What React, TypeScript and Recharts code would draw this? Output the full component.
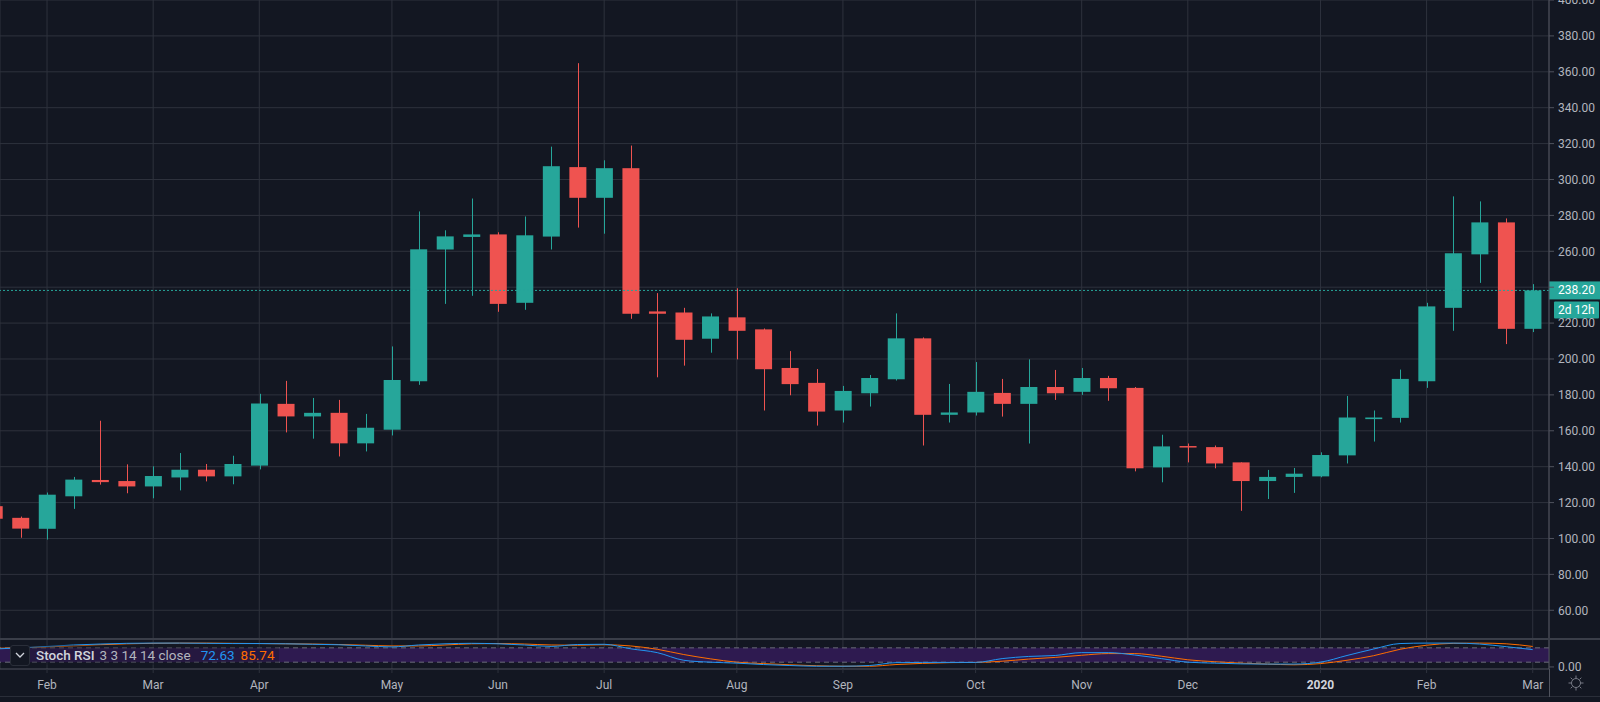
import { ComposedChart, Bar, Line, XAxis, YAxis, CartesianGrid, ReferenceLine, ReferenceArea } from 'recharts'

// weekly candles, index 1..59 (late Jan 2019 -> Mar 2020)
const weekIndex = Array.from({ length: 59 }, (_, i) => i + 1)

const opens = [
  118, 111.5, 105.4, 123.5, 132.6, 132, 129, 134, 138.3, 134.6,
  140.6, 175, 168, 170, 153, 160.6, 187.6, 261, 268, 269.4,
  231.3, 268.2, 306.9, 289.8, 306.3, 226.5, 225.9, 211.3, 223.2, 216.5,
  195, 186.7, 171.3, 180.9, 188.7, 211.5, 168.9, 170.2, 181.1, 175,
  184.4, 181.7, 189.4, 183.9, 139.6, 151.5, 150.9, 142.4, 132, 134.3,
  134.6, 146.3, 166.5, 167.2, 187.6, 228.5, 258.3, 276.1, 216.8,
]
const highs = [
  120, 112.2, 125.6, 134.3, 165.6, 141.3, 140.2, 147.6, 141.5, 146.1,
  180.6, 187.8, 178.3, 177.2, 169.4, 207, 282.2, 271.7, 289.4, 270.6,
  279.4, 318.3, 364.8, 310.7, 318.9, 236.7, 228.5, 225.4, 239.4, 217,
  204.4, 194.4, 185, 191.1, 225.4, 212, 186.1, 198.3, 188.9, 199.8,
  193.9, 195, 190.6, 184.4, 157.8, 152.9, 151.8, 142.4, 138.2, 139.3,
  148, 179.4, 171.3, 194.1, 231.3, 290.6, 287.8, 278.3, 241.7,
]
const lows = [
  108, 100.4, 99.4, 116.5, 130, 125.2, 122.4, 126.8, 131.8, 130.2,
  138.5, 159.1, 155.6, 145.7, 148.5, 157.4, 185.6, 230.7, 235.2, 226.3,
  227.4, 261, 273.2, 269.8, 222.4, 189.8, 196.3, 203.5, 199.8, 171.3,
  179.8, 162.9, 164.6, 173.5, 188, 151.8, 164.6, 168.5, 167.9, 152.9,
  177.2, 180, 176.7, 137.4, 131.3, 142.4, 139.1, 115.4, 122, 125.4,
  134.1, 141.8, 154, 164.6, 183.9, 215.7, 242.4, 208.3, 215,
]
const closes = [
  111, 105.5, 124.4, 132.8, 131.4, 129, 134.8, 138.3, 134.6, 141.5,
  175.2, 168, 170, 153, 161.7, 188.3, 261.1, 268.3, 269.4, 230.7,
  268.9, 307.4, 289.8, 306.3, 225.2, 225.2, 210.7, 223.7, 215.7, 194.3,
  186, 170.7, 182.2, 189.4, 211.5, 168.9, 170.2, 181.7, 175, 184.4,
  180.9, 189.4, 183.7, 139.1, 151.3, 150.7, 141.8, 132, 134.3, 136.1,
  146.5, 167.4, 167.4, 188.9, 229.3, 258.9, 276.1, 216.8, 238.2,
]

const stochK = [
  75, 80, 86, 92, 96, 99, 100, 100, 99, 98,
  98, 97, 95, 93, 88, 84, 92, 97, 99, 97,
  92, 86, 94, 95, 76, 60, 28, 20, 16, 10,
  6, 3, 3, 6, 18, 19, 19, 19, 35, 44,
  48, 60, 60, 50, 35, 20, 16, 13, 12, 12,
  20, 48, 75, 98, 100, 100, 96, 85, 72.63,
]
const stochD = [
  78, 80, 84, 88, 93, 97, 99, 100, 100, 99,
  98, 97, 96, 94, 91, 88, 88, 92, 97, 98,
  96, 92, 91, 93, 88, 74, 52, 34, 20, 14,
  9, 5, 3, 3, 10, 15, 18, 19, 24, 33,
  40, 49, 56, 56, 45, 30, 22, 16, 12, 9,
  14, 28, 47, 74, 91, 99, 100, 97, 85.74,
]

const monthTicks = [3, 7, 11, 16, 20, 24, 29, 33, 38, 42, 46, 51, 55, 59]
const monthLabels = ['Feb', 'Mar', 'Apr', 'May', 'Jun', 'Jul', 'Aug', 'Sep', 'Oct', 'Nov', 'Dec', '2020', 'Feb', 'Mar']
const priceTicks = [60, 80, 100, 120, 140, 160, 180, 200, 220, 240, 260, 280, 300, 320, 340, 360, 380, 400]
const lastPrice = 238.2

const BG = '#131722'
const GRID = '#2e323d'
const AXIS = '#50535e'
const TEXT = '#b2b5be'
const UP = '#26a69a'
const DOWN = '#ef5350'
const FONT = 'Roboto, "Noto Sans", sans-serif'
const X_DOMAIN = [1.227, 59.614]

const data = weekIndex.map((idx, i) => ({
  idx,
  open: opens[i],
  high: highs[i],
  low: lows[i],
  close: closes[i],
  range: [lows[i], highs[i]],
  k: stochK[i],
  d: stochD[i],
}))

function Candle(props: any) {
  const { x, y, width, height, payload } = props
  if (x == null || y == null || !payload) return null
  const { open, close, high, low } = payload
  const color = close >= open ? UP : DOWN
  const ratio = high === low ? 0 : height / (high - low)
  const yOf = (v: number) => y + (high - v) * ratio
  const cx = Math.round(x + width / 2) + 0.5
  const top = yOf(Math.max(open, close))
  const bottom = yOf(Math.min(open, close))
  return (
    <g>
      <line x1={cx} x2={cx} y1={y} y2={y + height} stroke={color} strokeWidth={1} />
      <rect x={x} y={top} width={width} height={Math.max(bottom - top, 1.5)} fill={color} />
    </g>
  )
}

// the last-price badge hides the axis label sitting under it
function PriceTick(props: any) {
  const { x, y, payload } = props
  if (Math.abs(payload.value - lastPrice) < 8) return null
  return (
    <text x={x} y={y} dy="0.355em" textAnchor="start" fontFamily={FONT} fontSize={12} fill={TEXT}>
      {Number(payload.value).toFixed(2)}
    </text>
  )
}

function PriceLabel(props: any) {
  const vb = props.viewBox || {}
  const left = vb.x + vb.width
  const cy = vb.y
  return (
    <g fontFamily={FONT} fontSize={12}>
      <rect x={left} y={cy - 9} width={51} height={18} fill={UP} />
      <text x={left + 9} y={cy + 4} fill="#ffffff">{lastPrice.toFixed(2)}</text>
      <rect x={left + 5} y={cy + 11} width={45} height={17} rx={1} fill={UP} />
      <text x={left + 9} y={cy + 24} fill="#ffffff">2d 12h</text>
    </g>
  )
}

function TimeTick(props: any) {
  const { x, y, payload } = props
  const pos = monthTicks.indexOf(payload.value)
  const label = monthLabels[pos] ?? ''
  const strong = label === '2020'
  return (
    <text x={x} y={y + 14} textAnchor="middle" fontFamily={FONT} fontSize={12}
      fontWeight={strong ? 700 : 400} fill={strong ? '#d1d4dc' : TEXT}>
      {label}
    </text>
  )
}

export default function App() {
  return (
    <div style={{ position: 'absolute', left: 0, top: 0, width: 1600, height: 702, background: BG, overflow: 'hidden' }}>
      <div style={{ position: 'absolute', left: 0, top: 0 }}>
        <ComposedChart width={1600} height={639} data={data} margin={{ top: 0, right: 0, bottom: 0, left: 0 }}>
          <CartesianGrid stroke={GRID} strokeWidth={1} />
          <XAxis dataKey="idx" type="number" domain={X_DOMAIN} allowDataOverflow ticks={monthTicks} hide />
          <YAxis
            orientation="right"
            width={51}
            domain={[44, 400]}
            allowDataOverflow
            ticks={priceTicks}
            interval={0}
            tick={(p: any) => <PriceTick {...p} />}
            tickSize={5}
            tickMargin={4}
            axisLine={{ stroke: AXIS }}
            tickLine={{ stroke: AXIS }}
          />
          <Bar dataKey="range" barSize={17} shape={(p: any) => <Candle {...p} />} isAnimationActive={false} />
          <ReferenceLine y={lastPrice} stroke={UP} strokeDasharray="2 2" label={(p: any) => <PriceLabel {...p} />} />
        </ComposedChart>
      </div>

      <div style={{ position: 'absolute', left: 0, top: 639 }}>
        <ComposedChart width={1600} height={63} data={data} margin={{ top: 0, right: 0, bottom: 0, left: 0 }}>
          <CartesianGrid stroke={GRID} horizontal={false} />
          <ReferenceArea y1={20} y2={80} fill="#2e1a50" fillOpacity={1} stroke="none" />
          <ReferenceLine y={80} stroke="#6a6d78" strokeDasharray="5 4" />
          <ReferenceLine y={20} stroke="#6a6d78" strokeDasharray="5 4" />
          <XAxis
            dataKey="idx"
            type="number"
            domain={X_DOMAIN}
            allowDataOverflow
            ticks={monthTicks}
            interval={0}
            height={33}
            tick={(p: any) => <TimeTick {...p} />}
            tickSize={4}
            axisLine={{ stroke: AXIS }}
            tickLine={{ stroke: GRID }}
          />
          <YAxis
            orientation="right"
            width={51}
            domain={[-8.6, 117.1]}
            allowDataOverflow
            ticks={[0]}
            interval={0}
            tickFormatter={(v: number) => v.toFixed(2)}
            tick={{ fill: TEXT, fontSize: 12, fontFamily: FONT }}
            tickSize={5}
            tickMargin={4}
            axisLine={{ stroke: AXIS }}
            tickLine={{ stroke: AXIS }}
          />
          <Line dataKey="d" type="monotone" stroke="#ff6d00" strokeWidth={1} dot={false} isAnimationActive={false} />
          <Line dataKey="k" type="monotone" stroke="#2196f3" strokeWidth={1} dot={false} isAnimationActive={false} />
        </ComposedChart>
      </div>

      {/* pane separators */}
      <div style={{ position: 'absolute', left: 0, top: 638, width: 1600, height: 2, background: '#3a3e49' }} />
      <div style={{ position: 'absolute', left: 0, top: 696, width: 1600, height: 1, background: '#2a2e39' }} />
      <div style={{ position: 'absolute', left: 1549, top: 669, width: 1, height: 28, background: AXIS }} />

      {/* gear icon */}
      <svg style={{ position: 'absolute', left: 1566, top: 673 }} width={20} height={20}>
        <circle cx={10} cy={10} r={4.5} fill="none" stroke="#787b86" strokeWidth={1} />
        {[0, 45, 90, 135, 180, 225, 270, 315].map((a) => {
          const r = (a * Math.PI) / 180
          return (
            <line key={a} x1={10 + Math.cos(r) * 5} y1={10 + Math.sin(r) * 5} x2={10 + Math.cos(r) * 7.5} y2={10 + Math.sin(r) * 7.5}
              stroke="#787b86" strokeWidth={1} />
          )
        })}
      </svg>

      {/* indicator legend */}
      <div style={{ position: 'absolute', left: 10, top: 645, height: 20, display: 'flex', alignItems: 'center', fontFamily: FONT, fontSize: 13.5 }}>
        <div style={{ width: 18, height: 19, border: '1px solid #2a2e39', borderRadius: 3, background: BG, display: 'flex', alignItems: 'center', justifyContent: 'center' }}>
          <svg width={10} height={6}>
            <polyline points="1,1 5,5 9,1" fill="none" stroke="#d1d4dc" strokeWidth={1.3} />
          </svg>
        </div>
        <div style={{ height: 20, display: 'flex', alignItems: 'center', paddingLeft: 6, paddingRight: 4, background: 'rgba(19,23,34,0.35)', whiteSpace: 'nowrap' }}>
          <span style={{ color: '#d1d4dc', fontWeight: 500 }}>Stoch RSI</span>
          <span style={{ color: TEXT, marginLeft: 5 }}>3 3 14 14 close</span>
          <span style={{ color: '#2196f3', marginLeft: 10 }}>72.63</span>
          <span style={{ color: '#ff6d00', marginLeft: 6 }}>85.74</span>
        </div>
      </div>
    </div>
  )
}
